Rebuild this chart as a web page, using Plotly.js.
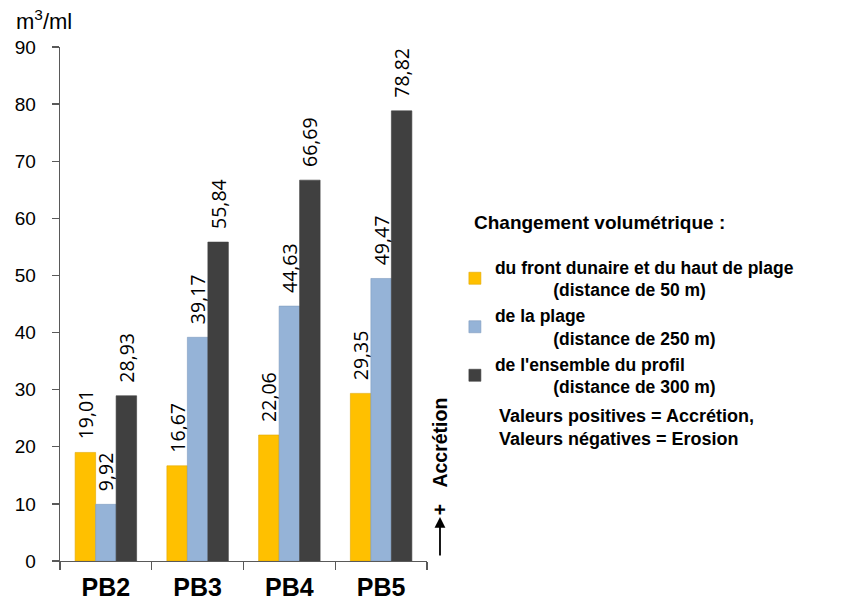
<!DOCTYPE html>
<html><head><meta charset="utf-8">
<script src="https://cdn.plot.ly/plotly-3.0.1.min.js"></script>
<style>html,body{margin:0;padding:0;background:#fff}</style>
</head><body>
<div id="chart" style="width:841px;height:604px"></div>
<script>
const categories = ["PB2", "PB3", "PB4", "PB5"];
const dune = [19.01, 16.67, 22.06, 29.35];
const plage = [9.92, 39.17, 44.63, 49.47];
const profil = [28.93, 55.84, 66.69, 78.82];
const seriesNames = [
  "du front dunaire et du haut de plage<br>" + "\u00a0".repeat(12) + "(distance de 50 m)",
  "de la plage<br>" + "\u00a0".repeat(12) + "(distance de 250 m)",
  "de l'ensemble du profil<br>" + "\u00a0".repeat(12) + "(distance de 300 m)"
];
const yTicks = [0, 10, 20, 30, 40, 50, 60, 70, 80, 90];

const fmt = v => "\u00a0\u00a0" + v.toFixed(2).replace(".", ",");
const colors = ["#FFC000", "#95B3D7", "#404040"];
const edge = ["#E0A800", "#7F9CC0", "#404040"];
const data = [dune, plage, profil].map((vals, i) => ({
  type: "bar",
  x: categories,
  y: vals,
  name: seriesNames[i],
  marker: {color: colors[i], line: {color: edge[i], width: 0.6}},
  text: vals.map(fmt),
  textposition: "outside",
  textangle: -90,
  constraintext: "none",
  cliponaxis: false,
  textfont: {family: "Open Sans, DejaVu Sans, sans-serif", size: 19.5, color: "#000"},
  hoverinfo: "none"
}));

const layout = {
  width: 841, height: 604,
  margin: {l: 60, r: 414, t: 47, b: 43},
  paper_bgcolor: "#fff", plot_bgcolor: "#fff",
  font: {family: "Liberation Sans, Arial, sans-serif", color: "#000"},
  barmode: "group",
  bargap: 0.33,
  bargroupgap: 0,
  showlegend: true,
  legend: {
    x: 1.076, xanchor: "left", y: 0.607, yanchor: "top",
    font: {family: "Liberation Sans, Arial, sans-serif", size: 17.5, color: "#000", weight: "bold"},
    bgcolor: "rgba(0,0,0,0)", borderwidth: 0, itemwidth: 30
  },
  xaxis: {
    type: "category",
    showline: true, linecolor: "#595959", linewidth: 1.3,
    ticks: "outside", tickson: "boundaries", ticklen: 8, tickcolor: "#595959", tickwidth: 1.3,
    ticklabelstandoff: 4,
    tickfont: {family: "Liberation Sans, Arial, sans-serif", size: 25, weight: "bold", color: "#000"},
    showgrid: false, zeroline: false
  },
  yaxis: {
    range: [0, 90], tickvals: yTicks, ticktext: yTicks.map(String),
    showline: true, linecolor: "#595959", linewidth: 1.3,
    ticks: "outside", ticklen: 7, tickcolor: "#595959", tickwidth: 1.3,
    ticklabelstandoff: 12,
    tickfont: {family: "Liberation Sans, Arial, sans-serif", size: 19, color: "#000"},
    showgrid: false, zeroline: false
  },
  annotations: [
    {xref: "paper", yref: "paper", x: -0.125, y: 1.053, xanchor: "left", yanchor: "middle",
     text: "m<sup>3</sup>/ml", showarrow: false,
     font: {family: "Liberation Sans, Arial, sans-serif", size: 22, color: "#000"}},
    {xref: "paper", yref: "paper", x: 1.1226, y: 0.6595, xanchor: "left", yanchor: "middle",
     text: "Changement volumétrique :", showarrow: false,
     font: {family: "Liberation Sans, Arial, sans-serif", size: 19, color: "#000", weight: "bold"}},
    {xref: "paper", yref: "paper", x: 1.1907, y: 0.2588, xanchor: "left", yanchor: "middle", align: "left",
     text: "Valeurs positives = Accrétion,<br>Valeurs négatives = Erosion", showarrow: false,
     font: {family: "Liberation Sans, Arial, sans-serif", size: 18, color: "#000", weight: "bold"}},
    {xref: "paper", yref: "paper", x: 1.0354, y: 0.2038, xanchor: "center", yanchor: "middle",
     text: "+\u00a0\u00a0\u00a0Accrétion", textangle: -90, showarrow: false,
     font: {family: "Liberation Sans, Arial, sans-serif", size: 19.5, color: "#000", weight: "bold"}},
    {xref: "paper", yref: "paper", x: 1.0354, y: 0.0856, text: "",
     showarrow: true, ax: 0, ay: 40, axref: "pixel", ayref: "pixel",
     arrowhead: 2, arrowsize: 1.2, arrowwidth: 1.8, arrowcolor: "#000", standoff: 0, startstandoff: 0}
  ]
};

Plotly.newPlot("chart", data, layout, {displayModeBar: false, staticPlot: true});
</script>
</body></html>
